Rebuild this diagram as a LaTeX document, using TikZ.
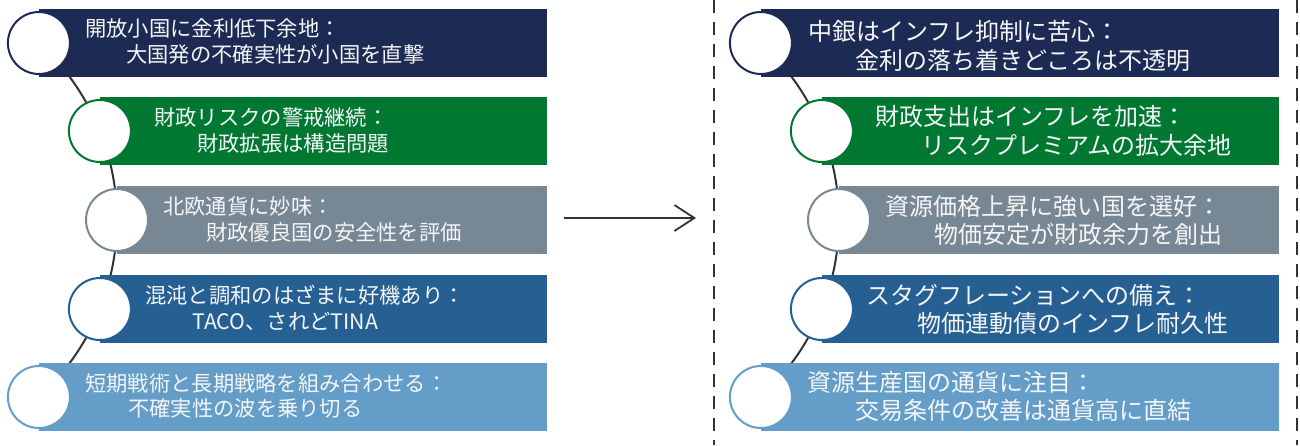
\documentclass[tikz,border=0pt]{standalone}
\usepackage{fontspec}
\newfontfamily\cjk{Noto Sans CJK JP}
\usetikzlibrary{arrows.meta}
\definecolor{cnavy}{HTML}{1C2A54}
\definecolor{cgreen}{HTML}{007832}
\definecolor{cgray}{HTML}{788794}
\definecolor{cblue}{HTML}{266092}
\definecolor{clight}{HTML}{649DC7}
\definecolor{cline}{HTML}{333333}
\definecolor{ctext}{HTML}{F4F6F8}
\tikzset{
  bar/.style={draw=none, minimum height=68pt, inner sep=0pt, anchor=north west},
  dot/.style={circle, fill=white, line width=2pt, minimum size=62pt, inner sep=0pt},
  lt/.style={anchor=west, inner sep=0pt, text=ctext, font=\cjk\fontsize{21.3}{21.3}\selectfont},
  rt/.style={anchor=west, inner sep=0pt, text=ctext, font=\cjk\fontsize{24}{24}\selectfont},
  conn/.style={draw=cline, line width=2pt},
  divider/.style={draw=cline, line width=2pt, dash pattern=on 13pt off 9pt},
}
\begin{document}
\begin{tikzpicture}[x=1pt,y=-1pt]
\useasboundingbox (0,0) rectangle (1300,445);
% circle centres
\coordinate (lc1) at (38.9,43);
\coordinate (lc2) at (99.9,131);
\coordinate (lc3) at (117,220);
\coordinate (lc4) at (99.9,309);
\coordinate (lc5) at (38.9,397);
\coordinate (rc1) at (760.9,43);
\coordinate (rc2) at (821.9,131);
\coordinate (rc3) at (839,220);
\coordinate (rc4) at (821.9,309);
\coordinate (rc5) at (760.9,397);
% connectors (behind), one arc through the circle centres
\draw[conn] (lc1) .. controls (65.6,67.3) and (86.5,97.4) .. (lc2)
                  .. controls (111.2,159.3) and (117,189.5) .. (lc3)
                  .. controls (117,250.5) and (111.2,280.7) .. (lc4)
                  .. controls (86.5,342.6) and (65.6,372.6) .. (lc5);
\draw[conn] (rc1) .. controls (787.6,67.3) and (808.5,97.4) .. (rc2)
                  .. controls (833.2,159.3) and (839,189.5) .. (rc3)
                  .. controls (839,250.5) and (833.2,280.7) .. (rc4)
                  .. controls (808.5,342.6) and (787.6,372.6) .. (rc5);
% left bars
\node[bar, fill=cnavy, minimum width=508pt] (lb1) at (39,9) {};
\node[bar, fill=cgreen, minimum width=447pt] (lb2) at (100,97) {};
\node[bar, fill=cgray, minimum width=430pt] (lb3) at (117,186) {};
\node[bar, fill=cblue, minimum width=447pt] (lb4) at (100,275) {};
\node[bar, fill=clight, minimum width=508pt] (lb5) at (39,363) {};
% right bars
\node[bar, fill=cnavy, minimum width=518pt] (rb1) at (761,9) {};
\node[bar, fill=cgreen, minimum width=457pt] (rb2) at (822,97) {};
\node[bar, fill=cgray, minimum width=440pt] (rb3) at (839,186) {};
\node[bar, fill=cblue, minimum width=457pt] (rb4) at (822,275) {};
\node[bar, fill=clight, minimum width=518pt] (rb5) at (761,363) {};
% circles
\node[dot, draw=cnavy] (l1) at (lc1) {};
\node[dot, draw=cgreen] (l2) at (lc2) {};
\node[dot, draw=cgray] (l3) at (lc3) {};
\node[dot, draw=cblue] (l4) at (lc4) {};
\node[dot, draw=clight] (l5) at (lc5) {};
\node[dot, draw=cnavy] (r1) at (rc1) {};
\node[dot, draw=cgreen] (r2) at (rc2) {};
\node[dot, draw=cgray] (r3) at (rc3) {};
\node[dot, draw=cblue] (r4) at (rc4) {};
\node[dot, draw=clight] (r5) at (rc5) {};
% left texts
\node[lt] (lt1a) at (85,28.5) {開放小国に金利低下余地：};
\node[lt] (lt1b) at (126,54.5) {大国発の不確実性が小国を直撃};
\node[lt] (lt2a) at (154,117) {財政リスクの警戒継続：};
\node[lt] (lt2b) at (197,143) {財政拡張は構造問題};
\node[lt] (lt3a) at (163,206) {北欧通貨に妙味：};
\node[lt] (lt3b) at (206,232) {財政優良国の安全性を評価};
\node[lt] (lt4a) at (145,295) {混沌と調和のはざまに好機あり：};
\node[lt] (lt4b) at (192,321) {TACO、されどTINA};
\node[lt] (lt5a) at (85,383) {短期戦術と長期戦略を組み合わせる：};
\node[lt] (lt5b) at (128,408.5) {不確実性の波を乗り切る};
% right texts
\node[rt] (rt1a) at (808,31.5) {中銀はインフレ抑制に苦心：};
\node[rt] (rt1b) at (855,60) {金利の落ち着きどころは不透明};
\node[rt] (rt2a) at (875,116.5) {財政支出はインフレを加速：};
\node[rt] (rt2b) at (921,145) {リスクプレミアムの拡大余地};
\node[rt] (rt3a) at (885,206) {資源価格上昇に強い国を選好：};
\node[rt] (rt3b) at (934,234) {物価安定が財政余力を創出};
\node[rt] (rt4a) at (866,295) {スタグフレーションへの備え：};
\node[rt] (rt4b) at (917,323) {物価連動債のインフレ耐久性};
\node[rt] (rt5a) at (807,382) {資源生産国の通貨に注目：};
\node[rt] (rt5b) at (855,410.5) {交易条件の改善は通貨高に直結};
% arrow and dividers
\coordinate (arrS) at (564,218);
\coordinate (arrE) at (696,218);
\draw[draw=cline, line width=1.8pt, -{Straight Barb[length=20pt, width=26pt, line width=1.8pt]}] (arrS) -- (arrE);
\coordinate (d1t) at (714,0);
\coordinate (d1b) at (714,445);
\coordinate (d2t) at (1297,0);
\coordinate (d2b) at (1297,445);
\draw[divider] (d1t) -- (d1b);
\draw[divider] (d2t) -- (d2b);
\end{tikzpicture}
\end{document}
